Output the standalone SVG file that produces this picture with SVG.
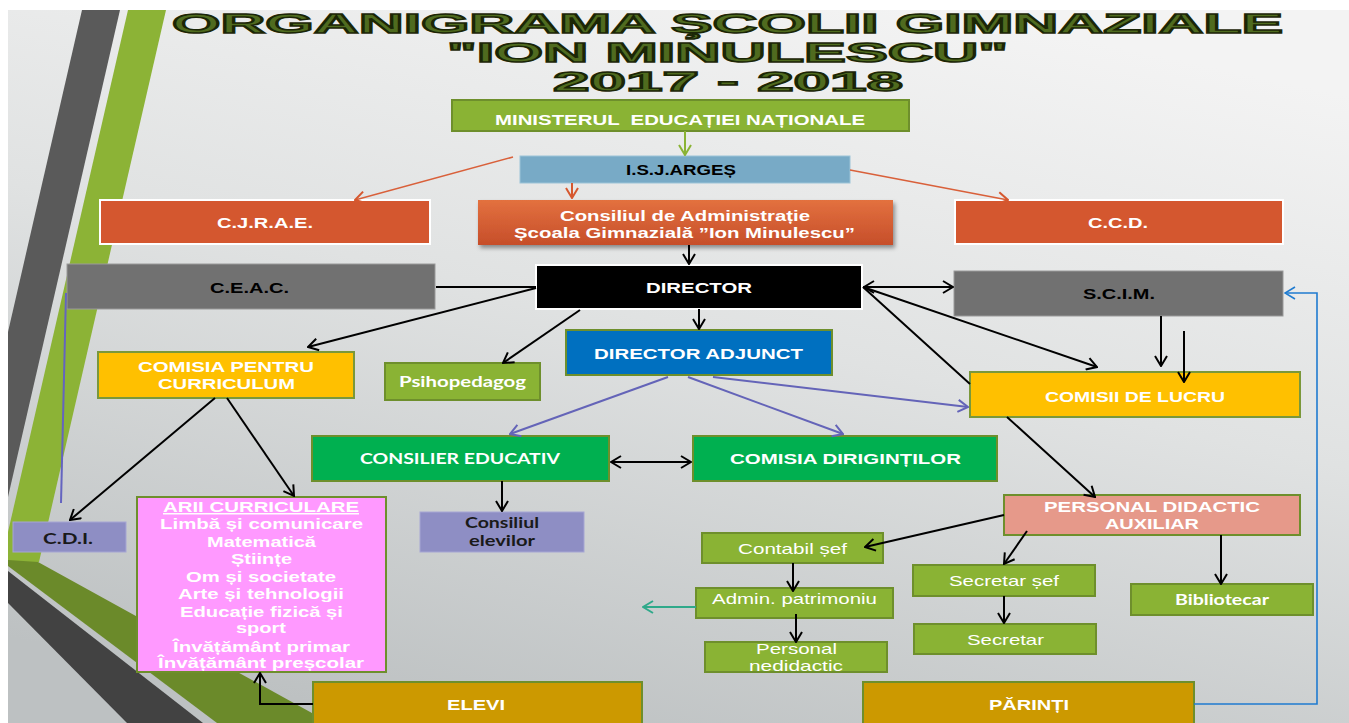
<svg xmlns="http://www.w3.org/2000/svg" width="1349" height="723" viewBox="0 0 1349 723">
<defs>
  <linearGradient id="bg" x1="0.7" y1="0" x2="0.3" y2="1">
    <stop offset="0" stop-color="#f3f3f3"/>
    <stop offset="0.45" stop-color="#e0e2e2"/>
    <stop offset="1" stop-color="#bdc1c2"/>
  </linearGradient>
  <linearGradient id="consGrad" x1="0" y1="0" x2="0" y2="1">
    <stop offset="0" stop-color="#e3713f"/>
    <stop offset="1" stop-color="#c64e2a"/>
  </linearGradient>
  <filter id="shadow" x="-10%" y="-20%" width="130%" height="160%">
    <feDropShadow dx="2" dy="3" stdDeviation="2" flood-color="#000" flood-opacity="0.4"/>
  </filter>
  <marker id="aK" viewBox="0 0 12 14" refX="11" refY="7" markerWidth="12" markerHeight="14" markerUnits="userSpaceOnUse" orient="auto-start-reverse">
    <path d="M1,1 L11,7 L1,13" fill="none" stroke="#000" stroke-width="2"/>
  </marker>
  <marker id="aP" viewBox="0 0 12 14" refX="11" refY="7" markerWidth="12" markerHeight="14" markerUnits="userSpaceOnUse" orient="auto">
    <path d="M1,1 L11,7 L1,13" fill="none" stroke="#6464b8" stroke-width="2"/>
  </marker>
  <marker id="aO" viewBox="0 0 12 14" refX="11" refY="7" markerWidth="12" markerHeight="14" markerUnits="userSpaceOnUse" orient="auto">
    <path d="M1,1 L11,7 L1,13" fill="none" stroke="#d6582f" stroke-width="2"/>
  </marker>
  <marker id="aG" viewBox="0 0 12 14" refX="11" refY="7" markerWidth="12" markerHeight="14" markerUnits="userSpaceOnUse" orient="auto">
    <path d="M1,1 L11,7 L1,13" fill="none" stroke="#8ab334" stroke-width="2"/>
  </marker>
  <marker id="aT" viewBox="0 0 12 14" refX="11" refY="7" markerWidth="12" markerHeight="14" markerUnits="userSpaceOnUse" orient="auto">
    <path d="M1,1 L11,7 L1,13" fill="none" stroke="#2fa98a" stroke-width="2"/>
  </marker>
  <marker id="aB" viewBox="0 0 12 14" refX="11" refY="7" markerWidth="12" markerHeight="14" markerUnits="userSpaceOnUse" orient="auto">
    <path d="M1,1 L11,7 L1,13" fill="none" stroke="#1f7bd0" stroke-width="1.6"/>
  </marker>
</defs>
<style>
  .t { font-family: "Liberation Sans", Arial, sans-serif; font-weight: bold; font-size: 15px; text-anchor: middle; fill: #fff; }
  .k { fill: #000; }
  .d { fill: #1a1a1a; }
  .reg { font-weight: normal; }
  .cal { font-family: Lato, "Open Sans", sans-serif; font-weight: bold; }
  .title { font-family: "Liberation Sans", Arial, sans-serif; font-weight: bold; font-size: 27px; text-anchor: middle; fill: #4f6b1f; stroke: #1b2606; stroke-width: 1.5; }
  .green { fill: #8ab334; stroke: #6e8f2c; stroke-width: 2; }
  .gold { fill: #ffc000; stroke: #7a983a; stroke-width: 2; }
  .dgold { fill: #cc9900; stroke: #6e8f2c; stroke-width: 2; }
  .emer { fill: #00b050; stroke: #6e8f2c; stroke-width: 2; }
  .orng { fill: #d4572f; stroke: #ffffff; stroke-width: 2; }
  .gray { fill: #717171; stroke: #9a9a9a; stroke-width: 1; }
  .lav { fill: #8e8ec4; stroke: #a6a6d4; stroke-width: 1; }
  .ln { fill: none; stroke: #000; stroke-width: 2; }
  .lp { fill: none; stroke: #6464b8; stroke-width: 2; }
  .lo { fill: none; stroke: #d9603a; stroke-width: 1.5; }
</style>

<rect x="0" y="0" width="1349" height="723" fill="#ffffff"/>
<rect x="8" y="10" width="1341" height="713" fill="url(#bg)"/>

<g id="decor">
  <polygon points="82,10 120,10 8,497 8,332" fill="#5a5a5a"/>
  <polygon points="128,10 166,10 39,562 8,562 8,532" fill="#8cb336"/>
  <polygon points="8,560 38,562 330,723 217,723 8,566" fill="#6b8a2a"/>
  <polygon points="8,571 203,723 127,723 8,603" fill="#424242"/>
</g>

<g id="title">
  <text class="title" x="727.5" y="33" textLength="1111" lengthAdjust="spacingAndGlyphs">ORGANIGRAMA ŞCOLII GIMNAZIALE</text>
  <text class="title" x="727.5" y="62" textLength="561" lengthAdjust="spacingAndGlyphs">"ION MINULESCU"</text>
  <text class="title" x="728" y="91" textLength="350" lengthAdjust="spacingAndGlyphs">2017 - 2018</text>
</g>

<g id="n-minister">
  <rect class="green" x="452" y="100" width="457" height="31"/>
  <text class="t" x="680" y="125" textLength="370" lengthAdjust="spacingAndGlyphs" style="white-space:pre">MINISTERUL  EDUCAȚIEI NAȚIONALE</text>
</g>
<g id="n-isj">
  <rect x="520" y="156" width="330" height="27" fill="#78aac6" stroke="#9cc4d8" stroke-width="1"/>
  <text class="t k" x="681" y="175" textLength="110" lengthAdjust="spacingAndGlyphs">I.S.J.ARGEȘ</text>
</g>
<g id="n-cjrae">
  <rect class="orng" x="100" y="200" width="330" height="44"/>
  <text class="t" x="265" y="228" textLength="96" lengthAdjust="spacingAndGlyphs">C.J.R.A.E.</text>
</g>
<g id="n-consiliu">
  <rect x="478" y="200" width="415" height="45" fill="url(#consGrad)" filter="url(#shadow)"/>
  <text class="t" x="685" y="221" textLength="250" lengthAdjust="spacingAndGlyphs">Consiliul de Administrație</text>
  <text class="t" x="684.5" y="238" textLength="341" lengthAdjust="spacingAndGlyphs">Școala Gimnazială ”Ion Minulescu”</text>
</g>
<g id="n-ccd">
  <rect class="orng" x="955" y="200" width="328" height="44"/>
  <text class="t" x="1118" y="228" textLength="60" lengthAdjust="spacingAndGlyphs">C.C.D.</text>
</g>
<g id="n-ceac">
  <rect class="gray" x="67" y="264" width="368" height="45"/>
  <text class="t k" x="249.5" y="293" textLength="79" lengthAdjust="spacingAndGlyphs">C.E.A.C.</text>
</g>
<g id="n-director">
  <rect x="536" y="265" width="326" height="44" fill="#000" stroke="#fff" stroke-width="2"/>
  <text class="t" x="699" y="293" textLength="106" lengthAdjust="spacingAndGlyphs">DIRECTOR</text>
</g>
<g id="n-scim">
  <rect class="gray" x="954" y="271" width="329" height="45"/>
  <text class="t k" x="1119" y="299" textLength="72" lengthAdjust="spacingAndGlyphs">S.C.I.M.</text>
</g>
<g id="n-diradj">
  <rect x="566" y="330" width="266" height="45" fill="#0070c0" stroke="#6e8f2c" stroke-width="2"/>
  <text class="t" x="698.5" y="359" textLength="209" lengthAdjust="spacingAndGlyphs">DIRECTOR ADJUNCT</text>
</g>
<g id="n-psiho">
  <rect class="green" x="385" y="363" width="155" height="37"/>
  <text class="t cal" x="462.5" y="387" textLength="127" lengthAdjust="spacingAndGlyphs">Psihopedagog</text>
</g>
<g id="n-curriculum">
  <rect class="gold" x="98" y="352" width="256" height="46"/>
  <text class="t" x="226" y="372" textLength="176" lengthAdjust="spacingAndGlyphs">COMISIA PENTRU</text>
  <text class="t" x="226.5" y="389" textLength="137" lengthAdjust="spacingAndGlyphs">CURRICULUM</text>
</g>
<g id="n-comisii">
  <rect class="gold" x="970" y="372" width="330" height="45"/>
  <text class="t" x="1135" y="402" textLength="180" lengthAdjust="spacingAndGlyphs">COMISII DE LUCRU</text>
</g>
<g id="n-consilier">
  <rect class="emer" x="312" y="436" width="297" height="45"/>
  <text class="t cal" x="460" y="464" textLength="200" lengthAdjust="spacingAndGlyphs">CONSILIER EDUCATIV</text>
</g>
<g id="n-diriginti">
  <rect class="emer" x="693" y="436" width="304" height="45"/>
  <text class="t" x="845.5" y="464" textLength="231" lengthAdjust="spacingAndGlyphs">COMISIA DIRIGINȚILOR</text>
</g>
<g id="n-cdi">
  <rect class="lav" x="13" y="522" width="113" height="30"/>
  <text class="t cal d" x="68" y="544" textLength="50" lengthAdjust="spacingAndGlyphs">C.D.I.</text>
</g>
<g id="n-arii">
  <rect x="137" y="497" width="249" height="175" fill="#ff99ff" stroke="#6e8f2c" stroke-width="2"/>
  <text class="t" x="261" y="512" textLength="196" lengthAdjust="spacingAndGlyphs" text-decoration="underline">ARII CURRICULARE</text>
  <text class="t" x="261.5" y="529" textLength="203" lengthAdjust="spacingAndGlyphs">Limbă și comunicare</text>
  <text class="t" x="261.5" y="547" textLength="109" lengthAdjust="spacingAndGlyphs">Matematică</text>
  <text class="t" x="261.5" y="564" textLength="61" lengthAdjust="spacingAndGlyphs">Științe</text>
  <text class="t" x="261" y="582" textLength="150" lengthAdjust="spacingAndGlyphs">Om și societate</text>
  <text class="t" x="261" y="599" textLength="166" lengthAdjust="spacingAndGlyphs">Arte și tehnologii</text>
  <text class="t" x="261.5" y="617" textLength="163" lengthAdjust="spacingAndGlyphs">Educație fizică și</text>
  <text class="t" x="261" y="633" textLength="50" lengthAdjust="spacingAndGlyphs">sport</text>
  <text class="t" x="261.5" y="652" textLength="177" lengthAdjust="spacingAndGlyphs">Învățământ primar</text>
  <text class="t" x="261" y="668" textLength="206" lengthAdjust="spacingAndGlyphs">Învățământ preșcolar</text>
</g>
<g id="n-elevicons">
  <rect class="lav" x="420" y="512" width="164" height="40"/>
  <text class="t cal d" x="502" y="528" textLength="74" lengthAdjust="spacingAndGlyphs">Consiliul</text>
  <text class="t cal d" x="502" y="546" textLength="66" lengthAdjust="spacingAndGlyphs">elevilor</text>
</g>
<g id="n-pda">
  <rect x="1004" y="495" width="296" height="40" fill="#e6998a" stroke="#6e8f2c" stroke-width="2"/>
  <text class="t" x="1152" y="512" textLength="216" lengthAdjust="spacingAndGlyphs">PERSONAL DIDACTIC</text>
  <text class="t" x="1152" y="529" textLength="94" lengthAdjust="spacingAndGlyphs">AUXILIAR</text>
</g>
<g id="n-contabil">
  <rect class="green" x="702" y="533" width="181" height="30"/>
  <text class="t reg" x="792.5" y="554" textLength="109" lengthAdjust="spacingAndGlyphs">Contabil șef</text>
</g>
<g id="n-admin">
  <rect class="green" x="696" y="588" width="197" height="30"/>
  <text class="t reg" x="794.5" y="604" textLength="165" lengthAdjust="spacingAndGlyphs">Admin. patrimoniu</text>
</g>
<g id="n-nedidactic">
  <rect class="green" x="705" y="642" width="182" height="30"/>
  <text class="t reg" x="796.5" y="654" textLength="81" lengthAdjust="spacingAndGlyphs">Personal</text>
  <text class="t reg" x="796" y="671" textLength="94" lengthAdjust="spacingAndGlyphs">nedidactic</text>
</g>
<g id="n-secsef">
  <rect class="green" x="913" y="565" width="182" height="31"/>
  <text class="t reg" x="1004" y="586" textLength="110" lengthAdjust="spacingAndGlyphs">Secretar șef</text>
</g>
<g id="n-secretar">
  <rect class="green" x="914" y="624" width="182" height="30"/>
  <text class="t reg" x="1005.5" y="645" textLength="77" lengthAdjust="spacingAndGlyphs">Secretar</text>
</g>
<g id="n-biblio">
  <rect class="green" x="1131" y="584" width="182" height="31"/>
  <text class="t cal" x="1222" y="605" textLength="94" lengthAdjust="spacingAndGlyphs">Bibliotecar</text>
</g>
<g id="n-elevi">
  <rect class="dgold" x="313" y="682" width="329" height="45"/>
  <text class="t" x="476" y="710" textLength="58" lengthAdjust="spacingAndGlyphs">ELEVI</text>
</g>
<g id="n-parinti">
  <rect class="dgold" x="863" y="682" width="331" height="45"/>
  <text class="t" x="1029" y="710" textLength="80" lengthAdjust="spacingAndGlyphs">PĂRINȚI</text>
</g>

<g id="connectors">
  <line x1="685" y1="131" x2="685" y2="155" stroke="#8ab334" stroke-width="2" marker-end="url(#aG)"/>
  <line x1="572" y1="183" x2="572" y2="198" stroke="#d6582f" stroke-width="2" marker-end="url(#aO)"/>
  <line class="lo" x1="513" y1="157" x2="355" y2="200" marker-end="url(#aO)"/>
  <line class="lo" x1="850" y1="170" x2="1008" y2="200" marker-end="url(#aO)"/>
  <line class="ln" x1="689" y1="245" x2="689" y2="264" marker-end="url(#aK)"/>
  <line class="ln" x1="436" y1="287" x2="536" y2="287"/>
  <line class="ln" x1="536" y1="288" x2="308" y2="347" marker-end="url(#aK)"/>
  <line class="ln" x1="580" y1="310" x2="503" y2="363" marker-end="url(#aK)"/>
  <line class="ln" x1="699" y1="309" x2="699" y2="329" marker-end="url(#aK)"/>
  <line class="ln" x1="864" y1="287" x2="953" y2="287" marker-start="url(#aK)" marker-end="url(#aK)"/>
  <line class="ln" x1="863" y1="287" x2="1097" y2="367" marker-end="url(#aK)"/>
  <path class="ln" d="M863,287 L970,384 M1007,417 L1095,497" marker-end="url(#aK)"/>
  <line class="ln" x1="1161" y1="316" x2="1161" y2="366" marker-end="url(#aK)"/>
  <line class="ln" x1="1184" y1="331" x2="1184" y2="382" marker-end="url(#aK)"/>
  <line class="lp" x1="713" y1="377" x2="968" y2="407" marker-end="url(#aP)"/>
  <line class="lp" x1="668" y1="377" x2="510" y2="434" marker-end="url(#aP)"/>
  <line class="lp" x1="688" y1="377" x2="843" y2="434" marker-end="url(#aP)"/>
  <line class="ln" x1="611" y1="462" x2="691" y2="462" marker-start="url(#aK)" marker-end="url(#aK)"/>
  <line class="ln" x1="502" y1="481" x2="502" y2="511" marker-end="url(#aK)"/>
  <line class="ln" x1="215" y1="398" x2="70" y2="520" marker-end="url(#aK)"/>
  <line class="ln" x1="227" y1="398" x2="294" y2="496" marker-end="url(#aK)"/>
  <line x1="66" y1="293" x2="61" y2="503" stroke="#6464c0" stroke-width="2"/>
  <path class="ln" d="M313,704 L260,704 L260,673" marker-end="url(#aK)"/>
  <line class="ln" x1="1004" y1="515" x2="865" y2="547" marker-end="url(#aK)"/>
  <line class="ln" x1="793" y1="563" x2="793" y2="591" marker-end="url(#aK)"/>
  <line x1="696" y1="607" x2="643" y2="607" stroke="#2fa98a" stroke-width="2" marker-end="url(#aT)"/>
  <line class="ln" x1="796" y1="614" x2="796" y2="642" marker-end="url(#aK)"/>
  <line class="ln" x1="1027" y1="531" x2="1004" y2="564" marker-end="url(#aK)"/>
  <line class="ln" x1="1004" y1="596" x2="1004" y2="623" marker-end="url(#aK)"/>
  <line class="ln" x1="1221" y1="535" x2="1221" y2="584" marker-end="url(#aK)"/>
  <path d="M1194,704 L1317,704 L1317,293 L1285,293" fill="none" stroke="#1f7bd0" stroke-width="1.6" marker-end="url(#aB)"/>
</g>
</svg>
